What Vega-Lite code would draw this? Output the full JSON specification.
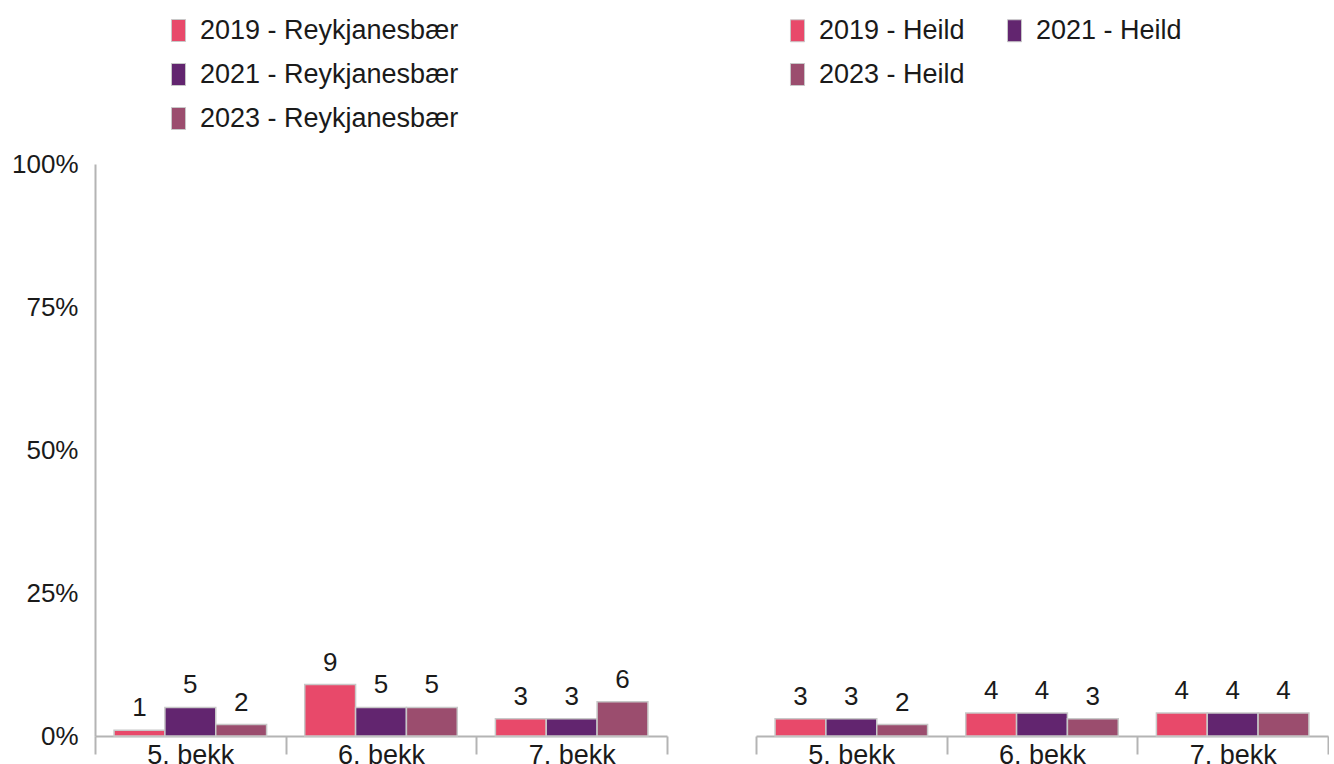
{
  "$schema": "https://vega.github.io/schema/vega-lite/v6.json",
  "autosize": {"type": "pad"},
  "padding": {"left": 11, "top": 17, "right": 0, "bottom": 0},
  "background": "white",
  "spacing": 87,
  "config": {
    "font": "Liberation Sans",
    "view": {"stroke": null},
    "axis": {"labelFont": "Liberation Sans", "labelColor": "#1a1a1a", "grid": false, "title": null, "domainColor": "#b4b4b4", "domainWidth": 2, "tickColor": "#b4b4b4", "tickWidth": 2},
    "legend": {"labelFont": "Liberation Sans", "labelFontSize": 27, "labelColor": "#1a1a1a", "labelLimit": 0, "title": null, "symbolType": "M-0.64,-1H0.64V1H-0.64Z", "symbolSize": 484, "symbolStrokeColor": "#c8c8c8", "symbolStrokeWidth": 1, "rowPadding": 16, "labelOffset": 8}
  },
  "datasets": {
    "left": [
      {"group": "5. bekk", "series": "2019 - Reykjanesbær", "value": 1},
      {"group": "5. bekk", "series": "2021 - Reykjanesbær", "value": 5},
      {"group": "5. bekk", "series": "2023 - Reykjanesbær", "value": 2},
      {"group": "6. bekk", "series": "2019 - Reykjanesbær", "value": 9},
      {"group": "6. bekk", "series": "2021 - Reykjanesbær", "value": 5},
      {"group": "6. bekk", "series": "2023 - Reykjanesbær", "value": 5},
      {"group": "7. bekk", "series": "2019 - Reykjanesbær", "value": 3},
      {"group": "7. bekk", "series": "2021 - Reykjanesbær", "value": 3},
      {"group": "7. bekk", "series": "2023 - Reykjanesbær", "value": 6}
    ],
    "right": [
      {"group": "5. bekk", "series": "2019 - Heild", "value": 3},
      {"group": "5. bekk", "series": "2021 - Heild", "value": 3},
      {"group": "5. bekk", "series": "2023 - Heild", "value": 2},
      {"group": "6. bekk", "series": "2019 - Heild", "value": 4},
      {"group": "6. bekk", "series": "2021 - Heild", "value": 4},
      {"group": "6. bekk", "series": "2023 - Heild", "value": 3},
      {"group": "7. bekk", "series": "2019 - Heild", "value": 4},
      {"group": "7. bekk", "series": "2021 - Heild", "value": 4},
      {"group": "7. bekk", "series": "2023 - Heild", "value": 4}
    ]
  },
  "resolve": {"scale": {"color": "independent", "xOffset": "independent", "x": "independent", "y": "independent"}, "legend": {"color": "independent"}},
  "hconcat": [
    {
      "width": 572,
      "height": 572,
      "data": {"name": "left"},
      "encoding": {
        "x": {"field": "group", "type": "nominal", "sort": ["5. bekk", "6. bekk", "7. bekk"], "scale": {"type": "band", "paddingInner": 0, "paddingOuter": 0},
              "axis": {"labelAngle": 0, "labelFontSize": 27, "tickBand": "extent", "tickSize": 18, "labelPadding": -12}},
        "xOffset": {"field": "series", "type": "nominal", "sort": ["2019 - Reykjanesbær", "2021 - Reykjanesbær", "2023 - Reykjanesbær"], "scale": {"type": "band", "paddingInner": 0, "paddingOuter": 0.375}},
        "y": {"field": "value", "type": "quantitative", "scale": {"domain": [0, 100]},
              "axis": {"values": [0, 25, 50, 75, 100], "labelExpr": "datum.value + '%'", "labelFontSize": 26, "ticks": false, "labelPadding": 17}}
      },
      "layer": [
        {
          "mark": {"type": "bar", "stroke": "#c8c8c8", "strokeWidth": 1.5},
          "encoding": {
            "color": {"field": "series", "type": "nominal", "sort": ["2019 - Reykjanesbær", "2021 - Reykjanesbær", "2023 - Reykjanesbær"],
                      "scale": {"domain": ["2019 - Reykjanesbær", "2021 - Reykjanesbær", "2023 - Reykjanesbær"], "range": ["#E8496A", "#62256F", "#9B4D6E"]},
                      "legend": {"orient": "none", "legendX": 70, "legendY": -147, "columns": 1, "direction": "vertical"}}
          }
        },
        {
          "mark": {"type": "text", "baseline": "bottom", "dy": -9, "fontSize": 26, "color": "#1a1a1a"},
          "encoding": {"text": {"field": "value", "type": "quantitative"}}
        }
      ]
    },
    {
      "width": 572,
      "height": 572,
      "data": {"name": "right"},
      "encoding": {
        "x": {"field": "group", "type": "nominal", "sort": ["5. bekk", "6. bekk", "7. bekk"], "scale": {"type": "band", "paddingInner": 0, "paddingOuter": 0},
              "axis": {"labelAngle": 0, "labelFontSize": 27, "tickBand": "extent", "tickSize": 18, "labelPadding": -12}},
        "xOffset": {"field": "series", "type": "nominal", "sort": ["2019 - Heild", "2021 - Heild", "2023 - Heild"], "scale": {"type": "band", "paddingInner": 0, "paddingOuter": 0.375}},
        "y": {"field": "value", "type": "quantitative", "scale": {"domain": [0, 100]}, "axis": null}
      },
      "layer": [
        {
          "mark": {"type": "bar", "stroke": "#c8c8c8", "strokeWidth": 1.5},
          "encoding": {
            "color": {"field": "series", "type": "nominal", "sort": ["2019 - Heild", "2021 - Heild", "2023 - Heild"],
                      "scale": {"domain": ["2019 - Heild", "2021 - Heild", "2023 - Heild"], "range": ["#E8496A", "#62256F", "#9B4D6E"]},
                      "legend": {"orient": "none", "legendX": 28, "legendY": -147, "columns": 2, "direction": "horizontal", "columnPadding": 36}}
          }
        },
        {
          "mark": {"type": "text", "baseline": "bottom", "dy": -9, "fontSize": 26, "color": "#1a1a1a"},
          "encoding": {"text": {"field": "value", "type": "quantitative"}}
        }
      ]
    }
  ]
}
